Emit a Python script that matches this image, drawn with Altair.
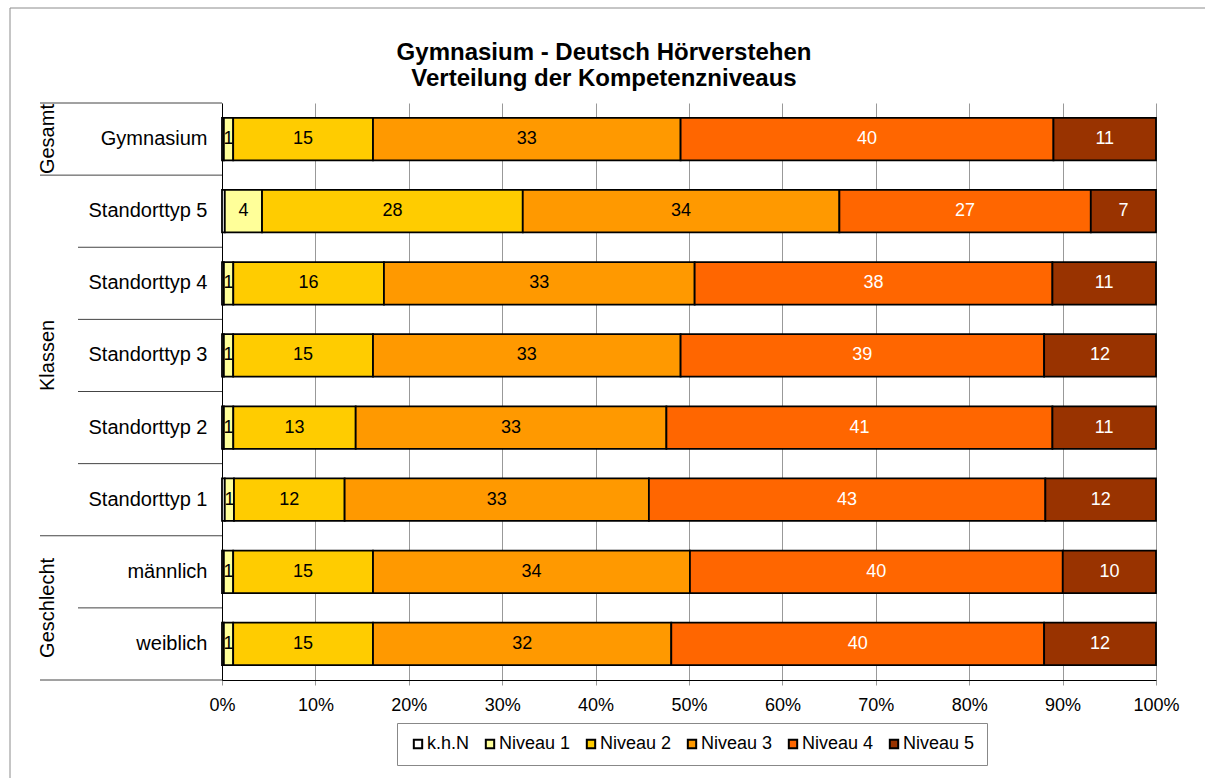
import altair as alt
import pandas as pd

# Rows from top to bottom and the competence levels (left to right in each bar)
rows = ["Gymnasium", "Standorttyp 5", "Standorttyp 4", "Standorttyp 3",
        "Standorttyp 2", "Standorttyp 1", "männlich", "weiblich"]
levels = ["k.h.N", "Niveau 1", "Niveau 2", "Niveau 3", "Niveau 4", "Niveau 5"]
level_colors = ["#FFFFFF", "#FFFF99", "#FFCC00", "#FF9900", "#FF6600", "#993300"]

# Percentages per row
khn = [0.2, 0.3, 0.2, 0.2, 0.2, 0.3, 0.2, 0.2]
niveau1 = [1, 4, 1, 1, 1, 1, 1, 1]
niveau2 = [15, 28, 16, 15, 13, 12, 15, 15]
niveau3 = [33, 34, 33, 33, 33, 33, 34, 32]
niveau4 = [40, 27, 38, 39, 41, 43, 40, 40]
niveau5 = [11, 7, 11, 12, 11, 12, 10, 12]

# Row groups shown on the far left (start/end in row units)
groups = ["Gesamt", "Klassen", "Geschlecht"]
group_start = [0, 1, 6]
group_end = [1, 6, 8]
major_bounds = [0, 1, 6, 8]
minor_bounds = [2, 3, 4, 5, 7]

x_ticks = [0, 0.1, 0.2, 0.3, 0.4, 0.5, 0.6, 0.7, 0.8, 0.9, 1.0]

title_lines = ["Gymnasium - Deutsch Hörverstehen", "Verteilung der Kompetenzniveaus"]

FONT = "Liberation Sans"

series = [khn, niveau1, niveau2, niveau3, niveau4, niveau5]
records = []
for i, row in enumerate(rows):
    for j, level in enumerate(levels):
        records.append({"row": row, "level": level, "order": j, "value": series[j][i]})
df = pd.DataFrame(records)

n_rows = len(rows)
row_scale = alt.Scale(domain=[0, n_rows], reverse=True)

base = alt.Chart(df).transform_stack(
    stack="value",
    groupby=["row"],
    as_=["x0", "x1"],
    offset="normalize",
    sort=[alt.SortField("order", order="ascending")],
)

bars = base.mark_bar(stroke="black", strokeWidth=1.8).encode(
    y=alt.Y(
        "row:N",
        scale=alt.Scale(domain=rows, paddingInner=0.41, paddingOuter=0.205),
        axis=alt.Axis(title=None, labelFontSize=20, labelFont=FONT, labelColor="black",
                      labelPadding=15, ticks=False, domainColor="black", domainWidth=1),
    ),
    x=alt.X(
        "x0:Q",
        scale=alt.Scale(domain=[0, 1]),
        axis=alt.Axis(title=None, values=x_ticks, format=".0%", grid=True,
                      gridColor="#999999", gridWidth=1, tickColor="#999999", tickSize=5,
                      labelPadding=11, labelFontSize=18, labelFont=FONT, labelColor="black",
                      domainColor="black", domainWidth=1, labelFlush=False),
    ),
    x2="x1:Q",
    color=alt.Color(
        "level:N",
        scale=alt.Scale(domain=levels, range=level_colors),
        legend=alt.Legend(
            title=None, orient="none", legendX=175, legendY=620, direction="horizontal",
            columns=6, symbolType="square", symbolSize=70, symbolStrokeColor="black",
            symbolStrokeWidth=2, labelFontSize=18, labelFont=FONT, labelColor="black",
            labelOffset=0, columnPadding=11, padding=12, strokeColor="#888888",
            fillColor="white",
        ),
    ),
)

labels = base.transform_filter(
    "datum.level != 'k.h.N'"
).transform_calculate(
    mid="(datum.x0 + datum.x1) / 2"
).mark_text(fontSize=18, font=FONT, baseline="middle", align="center").encode(
    y=alt.Y("row:N", scale=alt.Scale(domain=rows), axis=None),
    x=alt.X("mid:Q"),
    text=alt.Text("value:Q", format="d"),
    color=alt.condition("datum.order >= 4", alt.value("white"), alt.value("black")),
)

group_df = pd.DataFrame({
    "group": groups,
    "center": [(s + e) / 2 for s, e in zip(group_start, group_end)],
})
group_labels = alt.Chart(group_df).mark_text(
    angle=270, fontSize=20, font=FONT, color="black", align="center", baseline="middle"
).encode(
    y=alt.Y("center:Q", scale=row_scale, axis=None),
    x=alt.value(-174),
    text="group:N",
)

major_rules = alt.Chart(pd.DataFrame({"b": major_bounds})).mark_rule(
    color="#444444", strokeWidth=1
).encode(
    y=alt.Y("b:Q", scale=row_scale, axis=None),
    x=alt.value(-182),
    x2=alt.value(0),
)

minor_rules = alt.Chart(pd.DataFrame({"b": minor_bounds})).mark_rule(
    color="#444444", strokeWidth=1
).encode(
    y=alt.Y("b:Q", scale=row_scale, axis=None),
    x=alt.value(-144),
    x2=alt.value(0),
)

# Outer frame: top and left edges of the chart border
frame_top = alt.Chart(pd.DataFrame({"f": [0]})).mark_rule(
    color="#8c8c8c", strokeWidth=1
).encode(x=alt.value(-212), x2=alt.value(983), y=alt.value(-95))

frame_left = alt.Chart(pd.DataFrame({"f": [0]})).mark_rule(
    color="#8c8c8c", strokeWidth=1
).encode(x=alt.value(-212), y=alt.value(-95), y2=alt.value(675))

# Two-line chart heading
heading = alt.Chart(pd.DataFrame({"t": [title_lines]})).mark_text(
    fontSize=24, font=FONT, fontWeight="bold", color="black",
    align="center", baseline="alphabetic", lineHeight=26,
).encode(
    text="t",
    x=alt.value(382),
    y=alt.value(-43),
)

chart = alt.layer(
    frame_top, frame_left, bars, labels, major_rules, minor_rules, group_labels, heading
).resolve_scale(
    y="independent"
).properties(
    width=934,
    height=577,
    autosize=alt.AutoSizeParams(type="none"),
    padding={"left": 222, "top": 103, "right": 49, "bottom": 98},
    background="white",
).configure_view(strokeWidth=0)

chart.save("out.html", embed_options={"renderer": "svg", "actions": False})
